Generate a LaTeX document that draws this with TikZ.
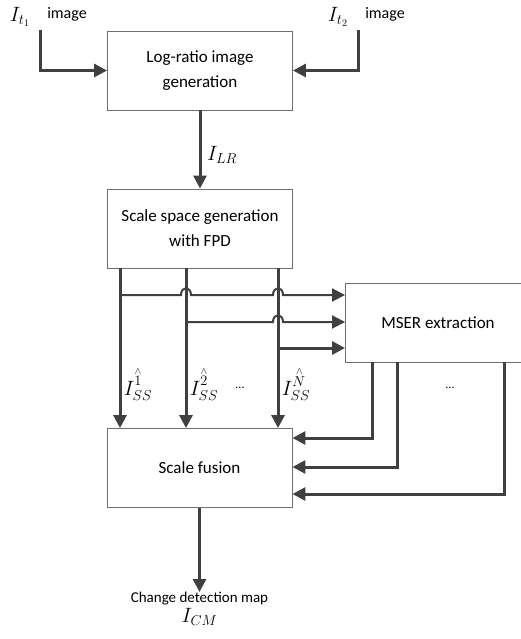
\documentclass[tikz,border=0pt]{standalone}
\usepackage{fontspec}
\setmainfont{Carlito}
\usepackage{tikz}
\usetikzlibrary{arrows.meta,positioning}
\definecolor{linegray}{HTML}{404040}
\definecolor{boxgray}{HTML}{6E6E6E}
\newcommand{\sslabel}[1]{$I^{\stackrel{\scriptscriptstyle\wedge}{#1}\vphantom{(}}_{SS\vphantom{(}}$}

\begin{document}
\begin{tikzpicture}[x=1pt, y=-1pt,
  block/.style={draw=boxgray, line width=0.9pt, minimum width=185pt, minimum height=79pt,
                inner sep=0pt, align=center, font=\fontsize{17}{25}\selectfont},
  flow/.style={draw=linegray, line width=3pt, -{Triangle[length=13pt,width=13pt]}},
  thinflow/.style={draw=linegray, line width=2pt, -{Triangle[length=13pt,width=13pt]}},
  lbl/.style={inner sep=0pt, font=\fontsize{16}{20}\selectfont},
  mlbl/.style={inner sep=0pt, font=\fontsize{20}{22}\selectfont},
  dots/.style={inner sep=0pt, font=\fontsize{12}{12}\selectfont}
]
\useasboundingbox (0,0) rectangle (521,639);
% Inputs
\node[mlbl] (it1) at (20,17) {$I_{t_1}$};
\node[lbl] (img1) at (67,14) {image};
\node[mlbl] (it2) at (338,17) {$I_{t_2}$};
\node[lbl] (img2) at (385,14) {image};
\coordinate (in1) at (40,30);
\coordinate (in2) at (358,30);
% Blocks
\node[block] (lr) at (200,70.5) {Log-ratio image\\generation};
\node[block] (ss) at (200,228.5) {Scale space generation\\with FPD};
\node[block] (mser) at (438,322.5) {MSER extraction};
\node[block] (sf) at (199.5,468) {Scale fusion};
\node[lbl, align=center, anchor=north, font=\fontsize{15}{20}\selectfont] (cdm) at (199.5,592) {Change detection map\\\fontsize{20}{20}\selectfont$I_{CM}$};
% Labels
\node[mlbl] (ilr) at (222,155) {$I_{LR}$};
\node[mlbl] (iss1) at (138,386) {\sslabel{1}};
\node[mlbl] (iss2) at (204,386) {\sslabel{2}};
\node[mlbl] (issn) at (296,386) {\sslabel{N}};
\node[dots] (dots1) at (240,388) {...};
\node[dots] (dots2) at (450,388) {...};
% Connections
\draw[flow] (in1) |- (lr.west);
\draw[flow] (in2) |- (lr.east);
\draw[flow] (lr.south) -- (ss.north);
\foreach \x in {120,186,278}
  \draw[flow] (\x,0 |- ss.south) -- (\x,0 |- sf.north);
\draw[thinflow] (120,295) -- (181,295) .. controls (181,286) and (191,286) .. (191,295)
  -- (273,295) .. controls (273,286) and (283,286) .. (283,295) -- (mser.west |- 0,295);
\draw[thinflow] (186,322) -- (273,322) .. controls (273,313) and (283,313) .. (283,322)
  -- (mser.west |- 0,322);
\draw[flow] (278,348) -- (mser.west |- 0,348);
\draw[flow] (372,0 |- mser.south) |- (sf.east |- 0,438);
\draw[flow] (397,0 |- mser.south) |- (sf.east |- 0,467);
\draw[flow] (504,0 |- mser.south) |- (sf.east |- 0,494);
\draw[flow] (sf.south) -- (cdm.north);
\end{tikzpicture}
\end{document}
